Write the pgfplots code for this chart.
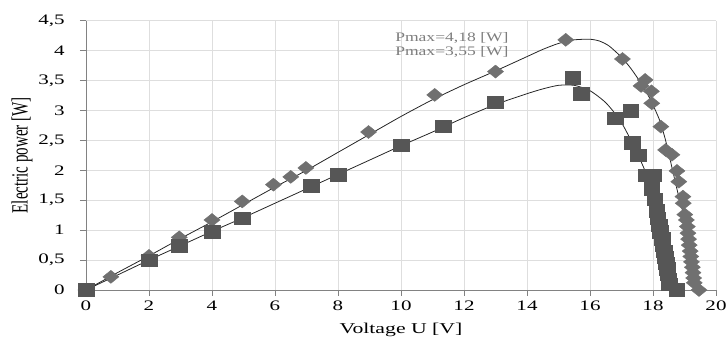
\documentclass[border=0pt]{standalone}
\usepackage{fontspec}
\setmainfont{Liberation Serif}
\usepackage{graphicx}
\usepackage{pgfplots}
\pgfplotsset{compat=1.18}
\usepackage{pgfplotstable}
\definecolor{diam}{RGB}{112,112,112}
\definecolor{sqc}{RGB}{86,86,86}
\definecolor{gridc}{RGB}{222,222,222}
\definecolor{axc}{RGB}{130,130,130}
\definecolor{txtg}{RGB}{125,125,125}

\pgfplotstableread{
x y
0 0
0.79 0.22
2.0 0.57
2.96 0.88
4.0 1.17
4.96 1.48
5.95 1.76
6.5 1.89
6.98 2.04
8.97 2.64
11.07 3.26
13.0 3.65
15.23 4.18
17.03 3.86
17.75 3.51
17.62 3.41
17.95 3.32
17.96 3.12
18.25 2.73
18.40 2.34
18.60 2.26
18.76 1.99
18.82 1.81
18.95 1.56
18.96 1.45
19.01 1.26
19.06 1.17
19.09 1.06
19.11 0.95
19.13 0.85
19.15 0.75
19.18 0.65
19.20 0.56
19.22 0.47
19.25 0.38
19.27 0.29
19.29 0.20
19.31 0.12
19.46 0
}\diamonds

\pgfplotstableread{
x y
0 0
2.0 0.5
2.97 0.74
4.0 0.97
4.96 1.2
7.15 1.74
8.0 1.93
10.0 2.42
11.33 2.74
13.0 3.14
15.45 3.55
15.73 3.28
16.79 2.87
17.29 3.0
17.33 2.46
17.53 2.25
17.77 1.92
18.02 1.92
17.96 1.69
18.05 1.52
18.12 1.32
18.15 1.2
18.2 1.08
18.24 0.97
18.28 0.86
18.31 0.76
18.35 0.65
18.38 0.55
18.41 0.45
18.44 0.36
18.47 0.27
18.5 0.18
18.52 0.1
18.75 0
}\squares

\pgfplotstableread{
x y
0 0
1 0.29
2 0.57
3 0.86
4 1.14
5 1.43
6 1.72
7 2.0
8 2.3
9 2.6
10 2.9
11 3.18
12 3.43
13 3.66
14 3.9
14.5 4.02
15 4.12
15.5 4.18
16 4.19
16.3 4.16
16.6 4.08
17 3.89
17.3 3.7
17.6 3.47
17.9 3.2
18.2 2.85
18.4 2.5
18.6 2.05
18.8 1.6
19.0 1.2
19.1 0.95
19.2 0.7
19.3 0.42
19.38 0.2
19.45 0
}\trendA

\pgfplotstableread{
x y
0 0
1 0.25
2 0.5
3 0.74
4 0.98
5 1.21
6 1.45
7 1.69
8 1.93
9 2.17
10 2.41
11 2.64
12 2.88
13 3.1
14 3.28
14.5 3.36
15 3.42
15.5 3.42
16 3.33
16.5 3.13
16.95 2.84
17.3 2.5
17.74 2.0
18.03 1.5
18.28 1.0
18.49 0.5
18.7 0
}\trendB

\begin{document}
\begin{tikzpicture}
\begin{axis}[name=ax,
  scale only axis, width=630bp, height=269.3bp,
  xmin=0, xmax=20, ymin=0, ymax=4.5,
  xtick={0,2,4,6,8,10,12,14,16,18,20},
  ytick={0,0.5,1,1.5,2,2.5,3,3.5,4,4.5},
  axis x line=bottom, axis y line=left,
  axis line style={draw=axc, line width=0.8bp, -},
  tick align=outside, major tick length=6bp,
  tick style={draw=axc, line width=0.7bp},
  grid=major, grid style={draw=gridc, line width=0.7bp},
  /pgf/number format/use comma,
  /pgf/number format/assume math mode=true,
  tick label style={font=\fontsize{14.5bp}{17bp}\selectfont, xscale=1.45},
  yticklabel style={xshift=-7bp},
  xticklabel style={yshift=-1bp},
  xlabel={Voltage U [V]}, ylabel={Electric power [W]},
  xlabel style={font=\fontsize{15bp}{17bp}\selectfont, xscale=1.45, at={(axis description cs:0.5,-0.147)}, anchor=center},
  ylabel style={font=\fontsize{15bp}{17bp}\selectfont, yscale=1.55, at={(axis description cs:-0.1016,0.5)}, anchor=center},
  clip=false,
]
\addplot[only marks, mark=diamond*, mark size=6.5bp, mark options={xscale=1.65, fill=diam, draw=diam}] table[x=x,y=y] {\diamonds};
\addplot[only marks, mark=square*, mark size=6.3bp, mark options={xscale=1.25, fill=sqc, draw=sqc}] table[x=x,y=y] {\squares};
\addplot[black!85, line width=0.8bp, smooth, tension=0.4, no marks] table[x=x,y=y] {\trendA};
\addplot[black!85, line width=0.8bp, smooth, tension=0.4, no marks] table[x=x,y=y] {\trendB};
\node[anchor=west, align=left, text=txtg, font=\fontsize{13bp}{14bp}\selectfont, xscale=1.35, inner sep=0pt] at (axis cs:9.81,4.09) {Pmax=4,18 [W]\\Pmax=3,55 [W]};
\end{axis}
\pgfresetboundingbox
\path[use as bounding box] ([xshift=-86bp,yshift=-48bp]ax.south west) rectangle ([xshift=11bp,yshift=20.7bp]ax.north east);
\end{tikzpicture}
\end{document}
